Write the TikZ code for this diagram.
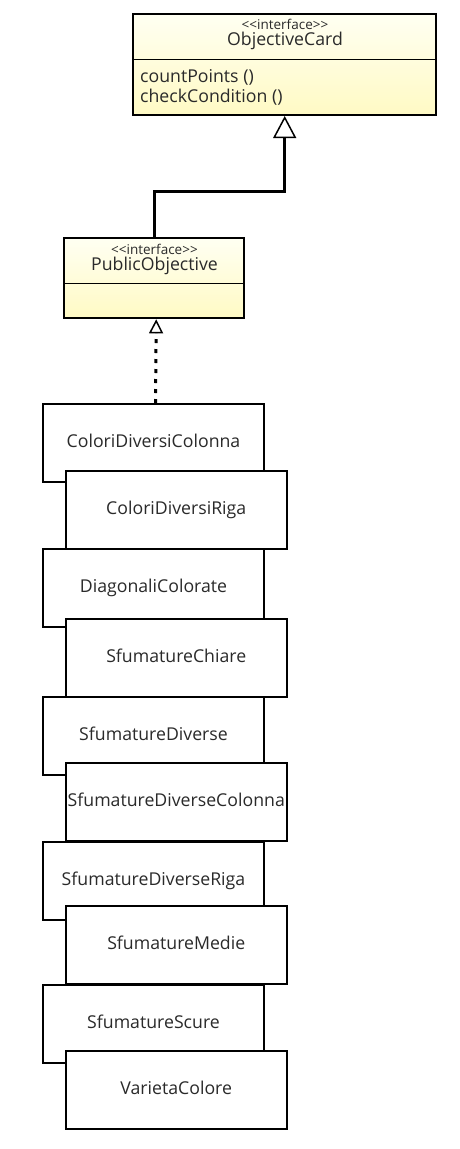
\documentclass[tikz,border=0pt]{standalone}
\usepackage{fontspec}
\setmainfont{Open Sans}[Ligatures=TeXOff]
\usetikzlibrary{arrows.meta}
\definecolor{txt}{HTML}{2A2A2A}
\definecolor{ytop}{RGB}{255,255,242}
\definecolor{ybot}{RGB}{255,250,196}
\tikzset{
  iface/.style={draw=black, line width=2pt, rectangle, top color=ytop, bottom color=ybot, inner sep=0pt},
  cls/.style={draw=black, line width=2pt, fill=white, rectangle, inner sep=0pt, text=txt, text height=13pt, text depth=4pt, font=\fontsize{17.7}{20}\selectfont},
  leftbox/.style={cls, minimum width=221pt, minimum height=78pt},
  rightbox/.style={cls, minimum width=220.5pt, minimum height=78pt},
  stereo/.style={text=txt, inner sep=0pt, font=\fontsize{13.5}{15}\selectfont},
  cname/.style={text=txt, inner sep=0pt, font=\fontsize{17.7}{20}\selectfont},
  meth/.style={text=txt, inner sep=0pt, anchor=west, font=\fontsize{17.7}{20}\selectfont},
  gen/.style={draw=black, line width=3pt, -{Triangle[open, length=22pt, width=23pt, line width=1.5pt]}},
  real/.style={draw=black, line width=3pt, dash pattern=on 4pt off 6pt, -{Triangle[open, length=14pt, width=14pt, line width=1.5pt]}}
}
\begin{document}
\begin{tikzpicture}[x=1pt,y=1pt]
\useasboundingbox (0,0) rectangle (459,-1149);
% ObjectiveCard
\node[iface, minimum width=302.7pt, minimum height=101pt] (oc) at (284.7,-64.5) {};
\draw[line width=1.5pt] (oc.west |- 0,-59.5) coordinate (ocdl) -- (oc.east |- 0,-59.5) coordinate (ocdr);
\node[stereo] (ocs) at (285,-24) {<<interface>>};
\node[cname] (ocn) at (285,-41) {ObjectiveCard};
\node[meth] (ocm1) at (140,-77.5) {countPoints ()};
\node[meth] (ocm2) at (140,-97.5) {checkCondition ()};
% PublicObjective
\node[iface, minimum width=180.3pt, minimum height=80pt] (po) at (154.2,-278.3) {};
\draw[line width=1.5pt] (po.west |- 0,-283.5) coordinate (podl) -- (po.east |- 0,-283.5) coordinate (podr);
\node[stereo] (pos) at (154.5,-249) {<<interface>>};
\node[cname] (pon) at (154.5,-266) {PublicObjective};
% classes
\node[leftbox]  (c1)  at (153.5,-443)   {ColoriDiversiColonna};
\node[rightbox] (c2)  at (176.25,-509.5) {ColoriDiversiRiga};
\node[leftbox]  (c3)  at (153.5,-588)   {DiagonaliColorate};
\node[rightbox] (c4)  at (176.25,-658)  {SfumatureChiare};
\node[leftbox]  (c5)  at (153.5,-736)   {SfumatureDiverse};
\node[rightbox] (c6)  at (176.25,-802)  {SfumatureDiverseColonna};
\node[leftbox]  (c7)  at (153.5,-881)   {SfumatureDiverseRiga};
\node[rightbox] (c8)  at (176.25,-945)  {SfumatureMedie};
\node[leftbox]  (c9)  at (153.5,-1023.5) {SfumatureScure};
\node[rightbox] (c10) at (176.25,-1089.5) {VarietaColore};
% connectors
\draw[gen] (po.north) -- (po.north |- 0,-191) -| (oc.south);
\draw[real] ([xshift=2pt]c1.north) -- ([xshift=2pt]po.south);
\end{tikzpicture}
\end{document}
